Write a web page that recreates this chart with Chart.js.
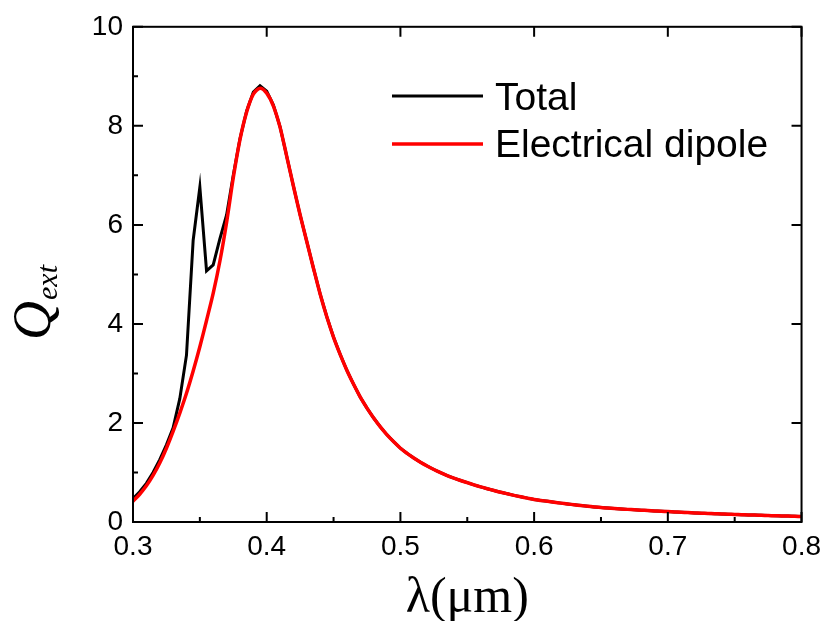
<!DOCTYPE html>
<html>
<head>
<meta charset="utf-8">
<script src="https://cdn.jsdelivr.net/npm/chart.js@4.4.0/dist/chart.umd.min.js"></script>
<style>
html,body{margin:0;padding:0;background:#ffffff;}
#wrap{width:829px;height:621px;position:relative;}
</style>
</head>
<body>
<div id="wrap"><canvas id="c" width="829" height="621"></canvas></div>
<script>
// Wavelength (µm)
const wavelengths = [
  0.300,0.305,0.310,0.315,0.320,0.325,0.330,0.335,0.340,0.345,
  0.350,0.355,0.360,0.365,0.370,0.375,0.380,0.385,0.390,0.395,
  0.400,0.405,0.410,0.415,0.420,0.425,0.430,0.435,0.440,0.445,
  0.450,0.455,0.460,0.465,0.470,0.475,0.480,0.485,0.490,0.495,
  0.500,0.505,0.510,0.515,0.520,0.525,0.530,0.535,0.540,0.545,
  0.550,0.555,0.560,0.565,0.570,0.575,0.580,0.585,0.590,0.595,
  0.600,0.605,0.610,0.615,0.620,0.625,0.630,0.635,0.640,0.645,
  0.650,0.655,0.660,0.665,0.670,0.675,0.680,0.685,0.690,0.695,
  0.700,0.705,0.710,0.715,0.720,0.725,0.730,0.735,0.740,0.745,
  0.750,0.755,0.760,0.765,0.770,0.775,0.780,0.785,0.790,0.795,
  0.800
];
// Q_ext, total
const totalQ = [
  0.47,0.61,0.78,1.00,1.26,1.56,1.90,2.49,3.37,5.69,
  6.76,5.07,5.19,5.72,6.20,7.00,7.74,8.30,8.68,8.81,
  8.70,8.42,7.98,7.38,6.78,6.20,5.66,5.12,4.60,4.14,
  3.73,3.38,3.06,2.78,2.52,2.30,2.10,1.92,1.76,1.62,
  1.49,1.386,1.292,1.207,1.130,1.060,0.996,0.938,0.886,0.838,
  0.794,0.751,0.710,0.672,0.636,0.601,0.569,0.538,0.509,0.482,
  0.456,0.436,0.417,0.399,0.381,0.364,0.348,0.333,0.318,0.304,
  0.291,0.282,0.273,0.264,0.255,0.247,0.239,0.231,0.224,0.217,
  0.210,0.203,0.197,0.190,0.184,0.178,0.173,0.167,0.162,0.157,
  0.152,0.147,0.143,0.139,0.134,0.130,0.126,0.122,0.119,0.115,
  0.112
];
// Q_ext, electrical dipole contribution
const dipoleQ = [
  0.42,0.56,0.73,0.94,1.19,1.49,1.83,2.20,2.60,3.05,
  3.54,4.07,4.62,5.27,6.05,6.95,7.72,8.28,8.64,8.76,
  8.66,8.40,7.97,7.38,6.78,6.20,5.66,5.12,4.60,4.14,
  3.73,3.38,3.06,2.78,2.52,2.30,2.10,1.92,1.76,1.62,
  1.49,1.386,1.292,1.207,1.130,1.060,0.996,0.938,0.886,0.838,
  0.794,0.751,0.710,0.672,0.636,0.601,0.569,0.538,0.509,0.482,
  0.456,0.436,0.417,0.399,0.381,0.364,0.348,0.333,0.318,0.304,
  0.291,0.282,0.273,0.264,0.255,0.247,0.239,0.231,0.224,0.217,
  0.210,0.203,0.197,0.190,0.184,0.178,0.173,0.167,0.162,0.157,
  0.152,0.147,0.143,0.139,0.134,0.130,0.126,0.122,0.119,0.115,
  0.112
];
const seriesLabels = ["Total", "Electrical dipole"];
const xTicks = [0.3, 0.4, 0.5, 0.6, 0.7, 0.8];
const xMinorTicks = [0.35, 0.45, 0.55, 0.65, 0.75];
const yTicks = [0, 2, 4, 6, 8, 10];
const yMinorTicks = [1, 3, 5, 7, 9];
const xTitle = "λ(μm)";
const yTitleMain = "Q";
const yTitleSub = "ext";

const tickFont = {family: "'Liberation Sans', Arial, sans-serif", size: 28};

const framePlugin = {
  id: 'frame',
  afterDatasetsDraw(chart) {
    const {ctx, chartArea: a, scales: {x, y}} = chart;
    ctx.save();
    ctx.strokeStyle = '#000';
    ctx.lineWidth = 2;
    ctx.strokeRect(a.left, a.top, a.right - a.left, a.bottom - a.top);
    ctx.beginPath();
    const major = 10, minor = 5;
    xTicks.forEach(v => {
      const px = x.getPixelForValue(v);
      ctx.moveTo(px, a.bottom); ctx.lineTo(px, a.bottom - major);
      ctx.moveTo(px, a.top); ctx.lineTo(px, a.top + major);
    });
    xMinorTicks.forEach(v => {
      const px = x.getPixelForValue(v);
      ctx.moveTo(px, a.bottom); ctx.lineTo(px, a.bottom - minor);
    });
    yTicks.forEach(v => {
      const py = y.getPixelForValue(v);
      ctx.moveTo(a.left, py); ctx.lineTo(a.left + major, py);
      ctx.moveTo(a.right, py); ctx.lineTo(a.right - major, py);
    });
    yMinorTicks.forEach(v => {
      const py = y.getPixelForValue(v);
      ctx.moveTo(a.left, py); ctx.lineTo(a.left + minor, py);
    });
    ctx.stroke();

    // Legend inside plot
    const legendRows = [{y: 96, base: 110}, {y: 144, base: 157}];
    chart.data.datasets.forEach((ds, i) => {
      const r = legendRows[i];
      ctx.strokeStyle = ds.borderColor;
      ctx.lineWidth = ds.borderWidth;
      ctx.beginPath();
      ctx.moveTo(392, r.y); ctx.lineTo(483, r.y);
      ctx.stroke();
      ctx.fillStyle = '#000';
      ctx.font = "39px 'Liberation Sans', Arial, sans-serif";
      ctx.textAlign = 'left';
      ctx.textBaseline = 'alphabetic';
      ctx.fillText(ds.label, 495, r.base);
    });

    // X axis title
    ctx.font = "50px 'Liberation Serif', 'Times New Roman', serif";
    ctx.textAlign = 'center';
    ctx.textBaseline = 'alphabetic';
    ctx.fillText(xTitle, (a.left + a.right) / 2, 612);

    // Y axis title with subscript
    ctx.save();
    ctx.translate(50, 340);
    ctx.rotate(-Math.PI / 2);
    ctx.textAlign = 'left';
    ctx.font = "italic 54px 'Liberation Serif', 'Times New Roman', serif";
    ctx.fillText(yTitleMain, 0, 0);
    const w = ctx.measureText(yTitleMain).width;
    ctx.font = "italic 30px 'Liberation Serif', 'Times New Roman', serif";
    ctx.fillText(yTitleSub, w + 1, 7);
    ctx.restore();
    ctx.restore();
  }
};

new Chart(document.getElementById('c'), {
  type: 'line',
  data: {
    datasets: [
      {
        label: seriesLabels[0],
        data: wavelengths.map((w, i) => ({x: w, y: totalQ[i]})),
        borderColor: '#000000',
        borderWidth: 3,
        pointRadius: 0,
        tension: 0,
        fill: false,
        order: 1
      },
      {
        label: seriesLabels[1],
        data: wavelengths.map((w, i) => ({x: w, y: dipoleQ[i]})),
        borderColor: '#ff0000',
        borderWidth: 3.5,
        pointRadius: 0,
        tension: 0.3,
        fill: false,
        order: 0
      }
    ]
  },
  options: {
    responsive: false,
    animation: false,
    devicePixelRatio: 1,
    layout: {padding: {left: 0, top: 26, right: 23, bottom: 0}},
    plugins: {legend: {display: false}, tooltip: {enabled: false}},
    scales: {
      x: {
        type: 'linear',
        min: 0.3, max: 0.8,
        grid: {display: false, drawTicks: false},
        border: {display: false},
        afterBuildTicks: s => { s.ticks = xTicks.map(v => ({value: v})); },
        afterFit: s => { s.height = 99; },
        ticks: {
          font: tickFont, color: '#000', padding: 8,
          maxRotation: 0, autoSkip: false,
          callback: v => Number(v).toFixed(1)
        }
      },
      y: {
        type: 'linear',
        min: 0, max: 10,
        grid: {display: false, drawTicks: false},
        border: {display: false},
        afterBuildTicks: s => { s.ticks = yTicks.map(v => ({value: v})); },
        afterFit: s => { s.width = 133; },
        ticks: {
          font: tickFont, color: '#000', padding: 10,
          autoSkip: false,
          callback: v => String(v)
        }
      }
    }
  },
  plugins: [framePlugin]
});
</script>
</body>
</html>
